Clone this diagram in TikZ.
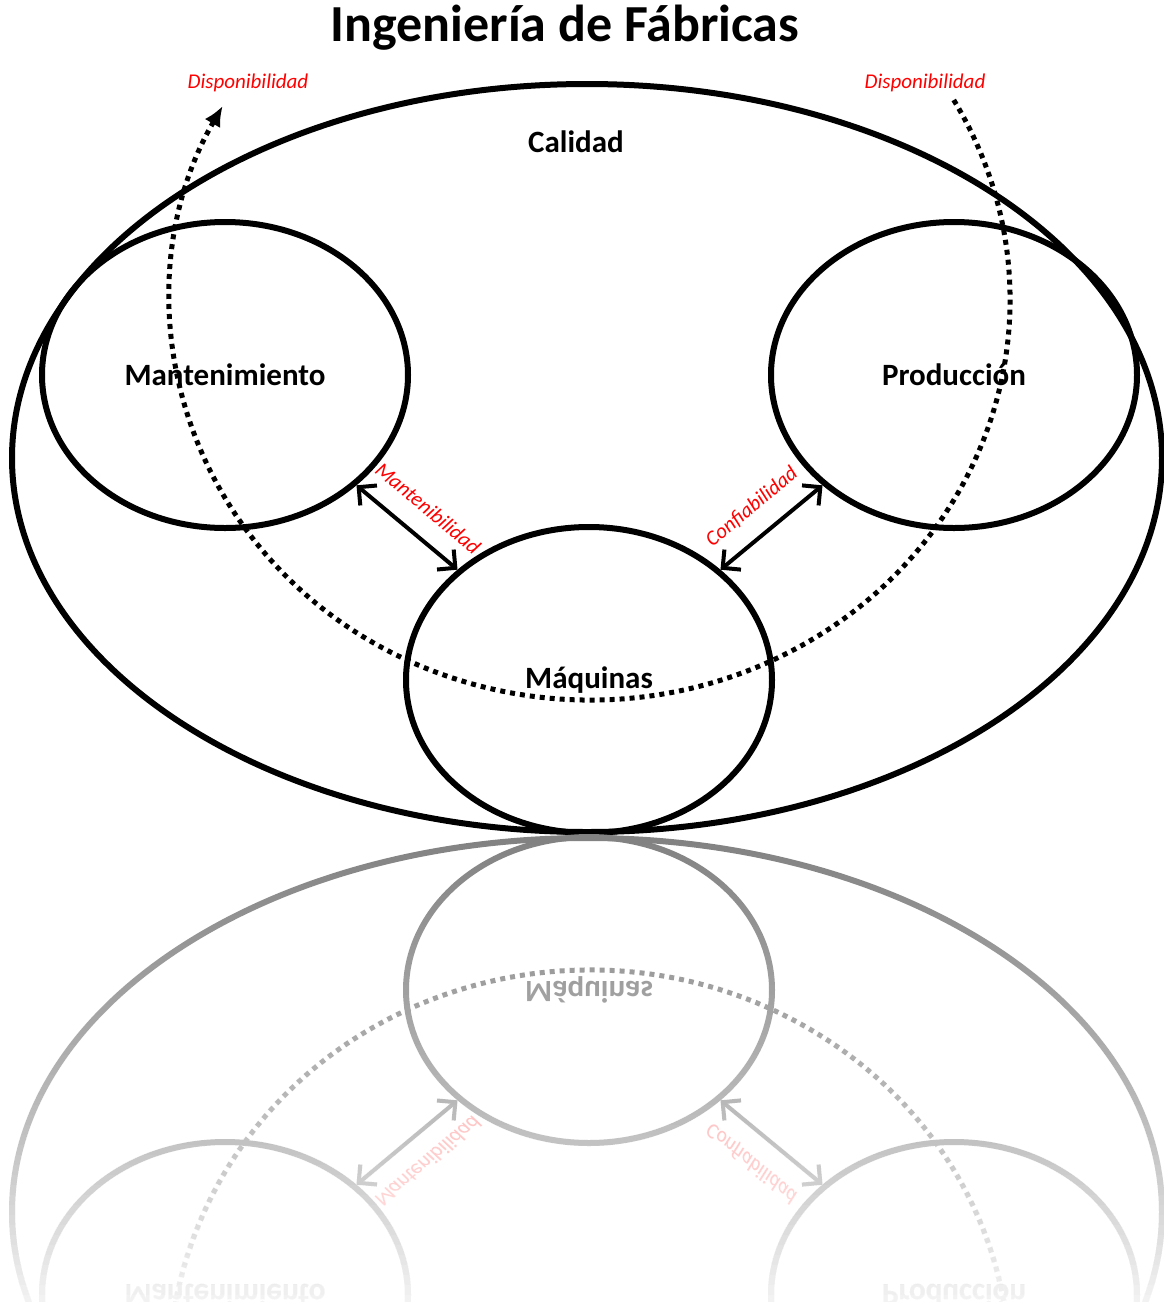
\documentclass[tikz,border=0pt]{standalone}
\usepackage{fontspec}
\setmainfont{Carlito}
\usetikzlibrary{arrows.meta,shapes.geometric}

\newcommand{\fabrica}[2]{%
	\draw[punteado, draw=#1] (590,300) ++(-30:420 and 400) coordinate (dispder)
		arc[start angle=-30, end angle=209, x radius=420, y radius=400] coordinate (dispizq);
	\node[ellipse, draw=#1, line width=6pt, minimum width=1150pt, minimum height=748pt, inner sep=0pt] (calidad) at (587,458) {};
	\node[texto, text=#1] (lcalidad) at (576,142) {Calidad};
	\node[circulo, draw=#1, text=#1] (mant) at (225,375) {Mantenimiento};
	\node[circulo, draw=#1, text=#1] (prod) at (954,375) {Producción};
	\node[circulo, draw=#1, text=#1] (maq) at (589,680) {Máquinas};
	\draw[relacion, draw=#1] (mant.-40) -- node[etiqueta, text=#2, sloped, above=17pt, xshift=4pt] {Mantenibilidad} (maq.140);
	\draw[relacion, draw=#1] (maq.40) -- node[etiqueta, text=#2, sloped, above=16pt, xshift=-2pt] {Confiabilidad} (prod.-140);
	\node[etiqueta, text=#2] (dispa) at (248,83) {Disponibilidad};
	\node[etiqueta, text=#2] (dispb) at (925,83) {Disponibilidad};
}

\begin{document}
\begin{tikzpicture}[x=1pt, y=-1pt, line join=round]
	\tikzset{
		texto/.style={font=\fontsize{31}{36}\selectfont\bfseries},
		circulo/.style={ellipse, line width=6pt, minimum width=366pt, minimum height=306pt, inner sep=0pt, texto},
		relacion/.style={line width=4pt, {Straight Barb[length=13pt,width=26pt]}-{Straight Barb[length=13pt,width=26pt]}},
		etiqueta/.style={font=\fontsize{21}{24}\selectfont\itshape, inner sep=2pt},
		punteado/.style={line width=5pt, dash pattern=on 5pt off 5pt, -{Latex[length=20pt,width=18pt]}}
	}
	\useasboundingbox (0,0) rectangle (1164,1302);
	\node[font=\fontsize{52}{60}\selectfont\bfseries] (titulo) at (565,28) {Ingeniería de Fábricas};
	\fabrica{black}{red}
	\begin{scope}
		\clip (0,833) rectangle (1164,1302);
		\begin{scope}[shift={(0,1670)}, yscale=-1, transform shape]
			\fabrica{black!50}{red!45}
		\end{scope}
		\foreach \k in {1,...,47}{
			\pgfmathsetmacro\op{1-(1-0.93*\k/47)/(1-0.93*(\k-1)/47)}
			\fill[white, fill opacity=\op] (0,{825+\k*10}) rectangle (1164,1302);
		}
	\end{scope}
\end{tikzpicture}
\end{document}
